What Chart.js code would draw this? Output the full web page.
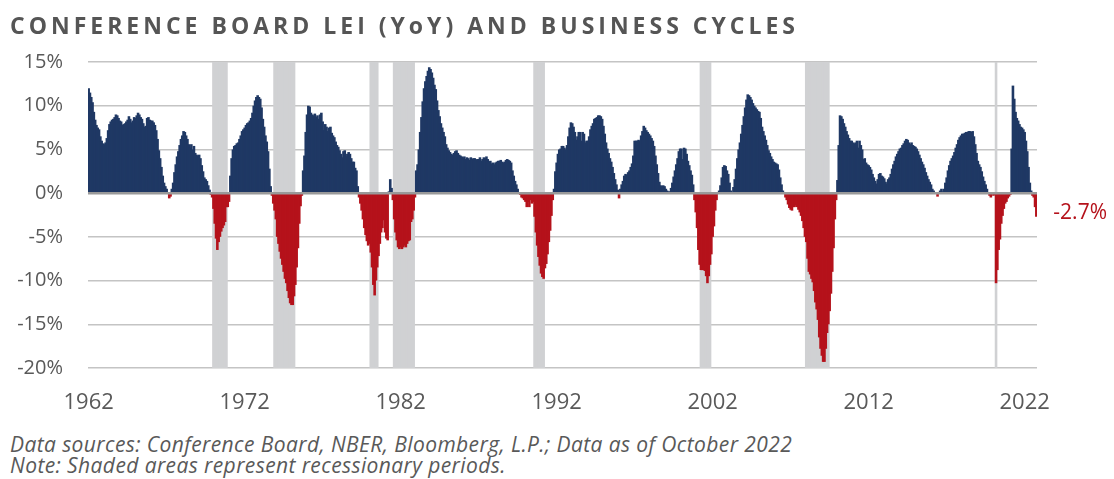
<!DOCTYPE html>
<html>
<head>
<meta charset="utf-8">
<title>Conference Board LEI (YoY) and Business Cycles</title>
<script src="https://cdn.jsdelivr.net/npm/chart.js@4.4.0/dist/chart.umd.min.js"></script>
<style>
  html, body { margin: 0; padding: 0; background: #fff; }
  #wrap { position: relative; width: 1114px; height: 479px; overflow: hidden; }
  #title {
    position: absolute; left: 10px; top: 14px;
    font: bold 23px/23px 'Open Sans', sans-serif;
    letter-spacing: 4px; color: #555; white-space: nowrap;
  }
  #chart-box { position: absolute; left: 0; top: 0; width: 1114px; height: 430px; }
  #notes {
    position: absolute; left: 10px; top: 434px;
    font: italic 21px/21px 'Open Sans', sans-serif;
    letter-spacing: 0.4px;
    color: #595959; white-space: nowrap;
  }
</style>
</head>
<body>
<div id="wrap">
  <div id="chart-box"><canvas id="leiChart"></canvas></div>
  <div id="title">CONFERENCE BOARD LEI (YoY) AND BUSINESS CYCLES</div>
  <div id="notes">
    Data sources: Conference Board, NBER, Bloomberg, L.P.; Data as of October 2022<br>
    Note: Shaded areas represent recessionary periods.
  </div>
</div>

<script>
// Monthly LEI year-over-year change (%), Jan 1962 - Oct 2022
const startYear = 1962;
const leiYoY = [
  12.0, 11.5, 11.0, 10.4, 9.3, 8.4, 7.8, 7.5, 7.3, 6.5, 6.0, 5.7,        // 1962
  5.6, 5.8, 6.3, 7.2, 7.9, 8.2, 8.4, 8.5, 8.7, 9.0, 8.9, 8.6,            // 1963
  8.3, 8.2, 7.8, 7.9, 8.0, 8.2, 8.4, 8.8, 8.5, 8.1, 8.3, 8.7,            // 1964
  8.6, 8.9, 9.2, 9.0, 8.7, 8.5, 8.0, 7.6, 7.7, 8.6, 8.7, 8.4,            // 1965
  8.3, 8.3, 8.1, 7.8, 7.2, 6.2, 4.9, 4.0, 3.0, 2.0, 1.2, 0.8,            // 1966
  0.5, 0.1, -0.6, -0.4, 0.5, 1.2, 2.4, 3.3, 4.2, 4.8, 5.5, 6.2,          // 1967
  6.6, 7.1, 7.0, 6.6, 6.2, 5.6, 5.2, 5.6, 5.0, 5.4, 4.6, 4.4,            // 1968
  4.3, 4.4, 4.0, 3.2, 2.5, 1.8, 1.6, 1.4, 0.9, 0.4, -0.2, -0.5,          // 1969
  -1.8, -3.5, -5.2, -6.5, -5.6, -5.0, -4.4, -4.0, -3.7, -3.3, -1.6, -1.6, // 1970
  -1.0, 2.0, 4.0, 5.0, 5.4, 5.5, 5.7, 5.8, 6.2, 6.6, 7.1, 7.3,           // 1971
  7.5, 7.8, 8.0, 8.1, 8.3, 8.6, 9.2, 10.0, 10.6, 11.0, 11.2, 11.0,       // 1972
  10.8, 9.8, 8.5, 7.6, 6.6, 5.9, 4.8, 2.8, 0.8, -0.3, -1.2, -2.0,        // 1973
  -3.0, -5.0, -5.8, -6.7, -7.5, -8.2, -9.0, -9.8, -10.3, -11.2, -12.0, -12.6, // 1974
  -12.8, -12.8, -11.8, -10.5, -8.5, -6.3, -3.5, -1.5, -0.3, 2.6, 4.3, 7.0, // 1975
  9.0, 10.0, 9.9, 9.2, 9.0, 8.9, 9.1, 8.7, 8.9, 8.5, 9.0, 9.2,           // 1976
  8.2, 7.2, 7.9, 7.6, 7.1, 7.5, 7.6, 6.9, 6.6, 6.4, 5.9, 5.5,            // 1977
  5.3, 4.9, 4.5, 4.1, 4.8, 4.9, 4.2, 4.5, 4.7, 4.5, 4.0, 3.6,            // 1978
  3.6, 2.9, 2.6, 0.8, -0.5, -1.2, -2.0, -3.0, -4.0, -4.8, -5.5, -6.0,    // 1979
  -5.8, -6.8, -8.5, -10.5, -11.7, -10.0, -8.5, -7.2, -5.8, -4.5, -4.0, -3.1, // 1980
  -4.5, -5.2, -5.4, 0.2, 1.6, 0.6, -0.8, -3.0, -4.5, -5.4, -6.2, -6.4,   // 1981
  -6.2, -6.4, -6.2, -6.0, -6.2, -5.8, -5.5, -5.4, -3.3, -3.0, -2.0, -0.5, // 1982
  2.6, 3.3, 5.0, 7.0, 8.7, 10.5, 12.0, 12.8, 13.4, 14.0, 14.4, 14.2,     // 1983
  13.8, 13.2, 12.4, 11.9, 10.6, 9.5, 8.8, 8.0, 7.5, 7.0, 6.5, 5.6,       // 1984
  5.2, 4.9, 4.7, 4.5, 4.4, 4.6, 4.8, 4.9, 4.6, 4.4, 4.3, 4.2,            // 1985
  4.0, 4.2, 3.9, 4.1, 4.0, 3.8, 4.1, 3.9, 4.0, 4.0, 3.8, 3.9,            // 1986
  3.9, 4.1, 3.7, 3.9, 4.1, 4.0, 4.2, 3.9, 3.6, 3.7, 3.4, 3.5,            // 1987
  3.3, 3.5, 3.6, 3.7, 3.7, 3.8, 3.6, 3.5, 3.6, 3.8, 3.9, 3.8,            // 1988
  3.7, 3.5, 2.6, 2.0, 1.4, 1.0, 0.5, 0.1, -0.2, -0.5, -0.6, -0.8,        // 1989
  -1.0, -1.6, -1.0, -1.6, -0.8, -1.2, -1.0, -2.7, -4.5, -6.0, -7.3, -8.3, // 1990
  -9.2, -9.6, -9.8, -8.6, -8.1, -7.0, -5.6, -4.3, -2.6, -0.8, 0.5, 2.5,  // 1991
  3.5, 4.5, 5.0, 5.1, 5.4, 5.4, 5.2, 5.0, 5.5, 6.5, 7.5, 8.1,            // 1992
  8.0, 7.6, 7.0, 6.1, 6.5, 7.0, 7.0, 6.0, 7.0, 6.8, 5.8, 6.0,            // 1993
  6.0, 6.5, 7.3, 7.7, 8.0, 8.5, 8.6, 8.7, 8.9, 8.9, 8.8, 8.5,            // 1994
  7.7, 6.8, 5.8, 5.1, 4.6, 4.0, 3.6, 3.0, 2.3, 1.6, 1.0, 0.4,            // 1995
  -0.6, 0.5, 1.0, 1.4, 2.0, 2.2, 2.1, 2.4, 2.6, 3.0, 3.4, 4.3,           // 1996
  6.0, 6.0, 6.0, 6.1, 6.0, 6.6, 7.1, 7.7, 7.5, 7.2, 7.0, 6.8,            // 1997
  6.6, 6.3, 6.0, 5.4, 4.3, 3.3, 2.3, 1.3, 0.9, 0.8, 0.9, 0.8,            // 1998
  0.5, 0.3, 0.2, 0.2, 0.6, 1.2, 1.9, 2.6, 3.3, 4.0, 4.8, 5.1,            // 1999
  5.1, 3.9, 5.2, 5.1, 4.5, 3.7, 3.2, 2.6, 2.1, 1.0, -0.8, -2.2,          // 2000
  -4.0, -6.5, -8.2, -8.8, -8.8, -8.8, -8.9, -9.5, -10.3, -9.5, -8.2, -7.0, // 2001
  -5.0, -3.8, -2.0, -0.8, 0.0, 0.3, 0.9, 1.8, 3.0, 3.2, 3.1, 2.6,        // 2002
  2.2, 1.2, 0.3, 0.1, 0.7, 1.6, 2.8, 4.0, 5.0, 5.8, 6.8, 7.8,            // 2003
  8.8, 9.8, 10.7, 11.3, 11.2, 11.0, 10.7, 10.3, 10.0, 9.8, 9.6, 9.4,     // 2004
  9.3, 8.6, 7.6, 7.1, 6.6, 6.1, 5.5, 4.9, 4.6, 4.2, 3.9, 3.6,            // 2005
  3.5, 3.4, 3.3, 2.7, 1.8, 1.0, 0.3, -0.1, -0.5, -0.8, -1.3, -1.7,       // 2006
  -1.9, -2.0, -1.6, -1.6, -1.4, -1.6, -1.9, -2.2, -2.6, -3.2, -4.0, -5.0, // 2007
  -5.6, -7.5, -9.0, -9.3, -9.8, -10.2, -11.2, -12.5, -13.3, -14.5, -16.5, -17.8, // 2008
  -18.6, -19.3, -19.3, -17.8, -16.0, -15.0, -13.5, -11.5, -9.0, -6.3, -3.0, -0.8, // 2009
  1.5, 5.5, 8.9, 8.8, 8.5, 8.0, 7.6, 7.1, 6.7, 6.3, 6.0, 6.0,            // 2010
  5.8, 5.7, 5.8, 6.0, 5.2, 6.0, 5.5, 5.0, 3.9, 4.0, 3.5, 3.3,            // 2011
  3.2, 3.0, 2.7, 2.2, 1.8, 1.4, 1.1, 1.6, 2.2, 2.3, 2.0, 1.9,            // 2012
  1.7, 1.3, 1.1, 1.6, 1.8, 2.2, 2.8, 3.3, 3.7, 4.2, 4.5, 4.8,            // 2013
  5.1, 5.2, 5.5, 5.7, 6.0, 6.2, 6.1, 5.8, 5.6, 5.8, 5.5, 5.4,            // 2014
  5.3, 5.1, 4.8, 4.4, 4.0, 3.6, 3.3, 2.9, 2.4, 2.0, 1.6, 1.3,            // 2015
  1.0, 0.5, 0.3, 0.1, -0.1, -0.4, 0.1, 0.3, 0.5, 0.2, 0.5, 1.2,          // 2016
  1.8, 2.6, 3.2, 3.7, 4.0, 4.3, 4.7, 5.2, 5.6, 6.1, 6.4, 6.6,            // 2017
  6.8, 6.8, 6.9, 7.0, 7.0, 7.1, 7.1, 7.0, 7.1, 6.5, 5.6, 4.6,            // 2018
  3.7, 3.3, 3.0, 2.5, 1.9, 1.4, 1.0, 0.5, 0.1, -0.3, -0.5, -0.1,         // 2019
  -0.3, -0.2, -10.3, -8.8, -6.5, -5.3, -3.5, -2.6, -1.8, -1.2, -1.0, -0.6, // 2020
  -0.4, -0.2, 5.1, 12.3, 10.8, 9.3, 8.6, 8.3, 7.9, 7.6, 7.5, 7.3,        // 2021
  7.0, 6.0, 4.8, 3.0, 1.2, 0.3, -0.3, -0.5, -1.6, -2.7                   // 2022 (to Oct)
];

// NBER recession months (first, last)
const recessions = [
  ['1970-01', '1970-11'],
  ['1973-12', '1975-03'],
  ['1980-02', '1980-07'],
  ['1981-08', '1982-11'],
  ['1990-08', '1991-03'],
  ['2001-04', '2001-11'],
  ['2008-01', '2009-06'],
  ['2020-03', '2020-03']
];

const yearTicks = ['1962', '1972', '1982', '1992', '2002', '2012', '2022'];
const yTicks = [-20, -15, -10, -5, 0, 5, 10, 15];

const NAVY = '#1f3864';
const RED = '#b5121b';
const BAND = '#d0d1d3';
const TEXT = '#595959';

// month labels 'YYYY-MM'
const months = leiYoY.map((_, i) => {
  const y = startYear + Math.floor(i / 12);
  const m = (i % 12) + 1;
  return y + '-' + String(m).padStart(2, '0');
});

const bandData = months.map(lbl =>
  recessions.some(([a, b]) => lbl >= a && lbl <= b) ? [yTicks[0], yTicks[yTicks.length - 1]] : null
);

// zero line drawn on top of the bars
const zeroLine = {
  id: 'zeroLine',
  afterDatasetsDraw(chart) {
    const { ctx, chartArea, scales } = chart;
    const y = scales.y.getPixelForValue(0);
    ctx.save();
    ctx.strokeStyle = '#999999';
    ctx.lineWidth = 2.5;
    ctx.beginPath();
    ctx.moveTo(chartArea.left, y);
    ctx.lineTo(chartArea.right, y);
    ctx.stroke();
    ctx.restore();
  }
};

// latest value label at the right end
const lastLabel = {
  id: 'lastLabel',
  afterDatasetsDraw(chart) {
    const { ctx } = chart;
    const meta = chart.getDatasetMeta(0);
    const bar = meta.data[meta.data.length - 1];
    const v = leiYoY[leiYoY.length - 1];
    ctx.save();
    ctx.fillStyle = v < 0 ? RED : NAVY;
    ctx.font = "21px 'Open Sans', sans-serif";
    ctx.textAlign = 'left';
    ctx.textBaseline = 'middle';
    ctx.fillText(v.toFixed(1) + '%', bar.x + 17, bar.y - 4);
    ctx.restore();
  }
};

Chart.defaults.font.family = "'Open Sans', sans-serif";
Chart.defaults.color = TEXT;

new Chart(document.getElementById('leiChart'), {
  type: 'bar',
  data: {
    labels: months,
    datasets: [{
      label: 'LEI YoY',
      data: leiYoY,
      backgroundColor: ctx => ctx.raw < 0 ? RED : NAVY,
      grouped: false,
      order: 1,
      barPercentage: 2,
      categoryPercentage: 1,
      inflateAmount: 0
    }, {
      label: 'Recession',
      data: bandData,
      backgroundColor: BAND,
      grouped: false,
      order: 2,
      barPercentage: 2,
      categoryPercentage: 1,
      inflateAmount: 0
    }]
  },
  options: {
    responsive: true,
    maintainAspectRatio: false,
    animation: false,
    layout: { padding: { top: 62, right: 77, left: 0, bottom: 0 } },
    plugins: {
      legend: { display: false },
      tooltip: { enabled: false }
    },
    scales: {
      x: {
        grid: { display: false, drawTicks: false },
        border: { display: false },
        ticks: {
          autoSkip: false,
          maxRotation: 0,
          padding: 22,
          font: { size: 22 },
          color: TEXT,
          callback: function(val, i) {
            const lbl = months[i];
            return lbl.endsWith('-01') && yearTicks.includes(lbl.slice(0, 4)) ? lbl.slice(0, 4) : '';
          }
        },
        afterFit(scale) { scale.height = 62; }
      },
      y: {
        min: yTicks[0],
        max: yTicks[yTicks.length - 1],
        grid: { color: '#c4c4c4', lineWidth: 1.5, drawTicks: false },
        border: { display: false },
        ticks: {
          stepSize: 5,
          padding: 25,
          font: { size: 20 },
          color: TEXT,
          callback: v => v + '%'
        },
        afterFit(scale) { scale.width = 88; }
      }
    }
  },
  plugins: [zeroLine, lastLabel]
});
</script>
</body>
</html>
